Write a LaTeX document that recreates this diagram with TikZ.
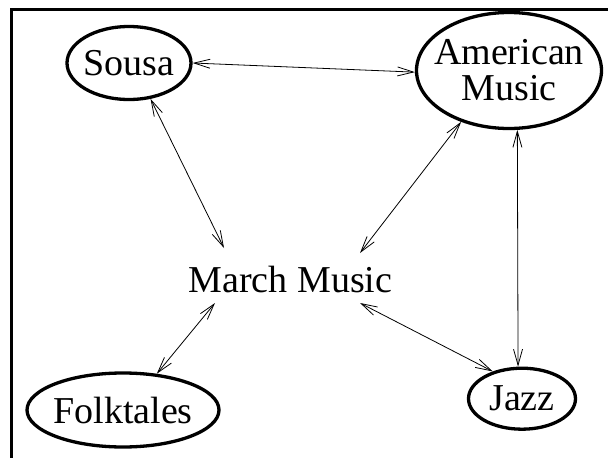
\documentclass[tikz,border=0pt]{standalone}
\usepackage{fontspec}
\setmainfont{Liberation Serif}
\usetikzlibrary{shapes.geometric,arrows.meta}
\begin{document}
\begin{tikzpicture}[x=1pt,y=-1pt,
  every node/.style={font=\fontsize{38pt}{36pt}\selectfont},
  topic/.style={draw,ellipse,line width=3.3pt,inner xsep=-10pt,inner ysep=0pt},
  plain/.style={inner sep=0pt},
  link/.style={{Straight Barb[length=16pt,width=9pt]}-{Straight Barb[length=16pt,width=9pt]},line width=0.8pt},
  frame/.style={line width=2.7pt}]
\useasboundingbox (0,0) rectangle (608,458);
\draw[frame] (608,9.3) -- (11.3,9.3) -- (11.3,458);
\node[topic,minimum width=124pt,minimum height=73pt] (sousa) at (129,63) {Sousa};
\node[topic,minimum width=185pt,minimum height=116pt,align=center] (american) at (509,70.5) {American\\Music};
\node[topic,minimum width=192pt,minimum height=74pt] (folk) at (123,410) {Folktales};
\node[topic,minimum width=107pt,minimum height=61pt] (jazz) at (522,398.7) {Jazz};
\node[plain] (march) at (290.5,279.4) {March Music};
\draw[link] (sousa.east) -- (american.181);
\draw[link] (sousa.-59) -- ([shift={(-66.5pt,31.4pt)}]march.center);
\draw[link] (american.-133) -- ([shift={(69.5pt,26.4pt)}]march.center);
\draw[link] (american.-82) -- (jazz.97);
\draw[link] ([shift={(69.5pt,-23.6pt)}]march.center) -- (jazz.137);
\draw[link] ([shift={(-75.5pt,-23.6pt)}]march.center) -- (folk.47);
\end{tikzpicture}
\end{document}
